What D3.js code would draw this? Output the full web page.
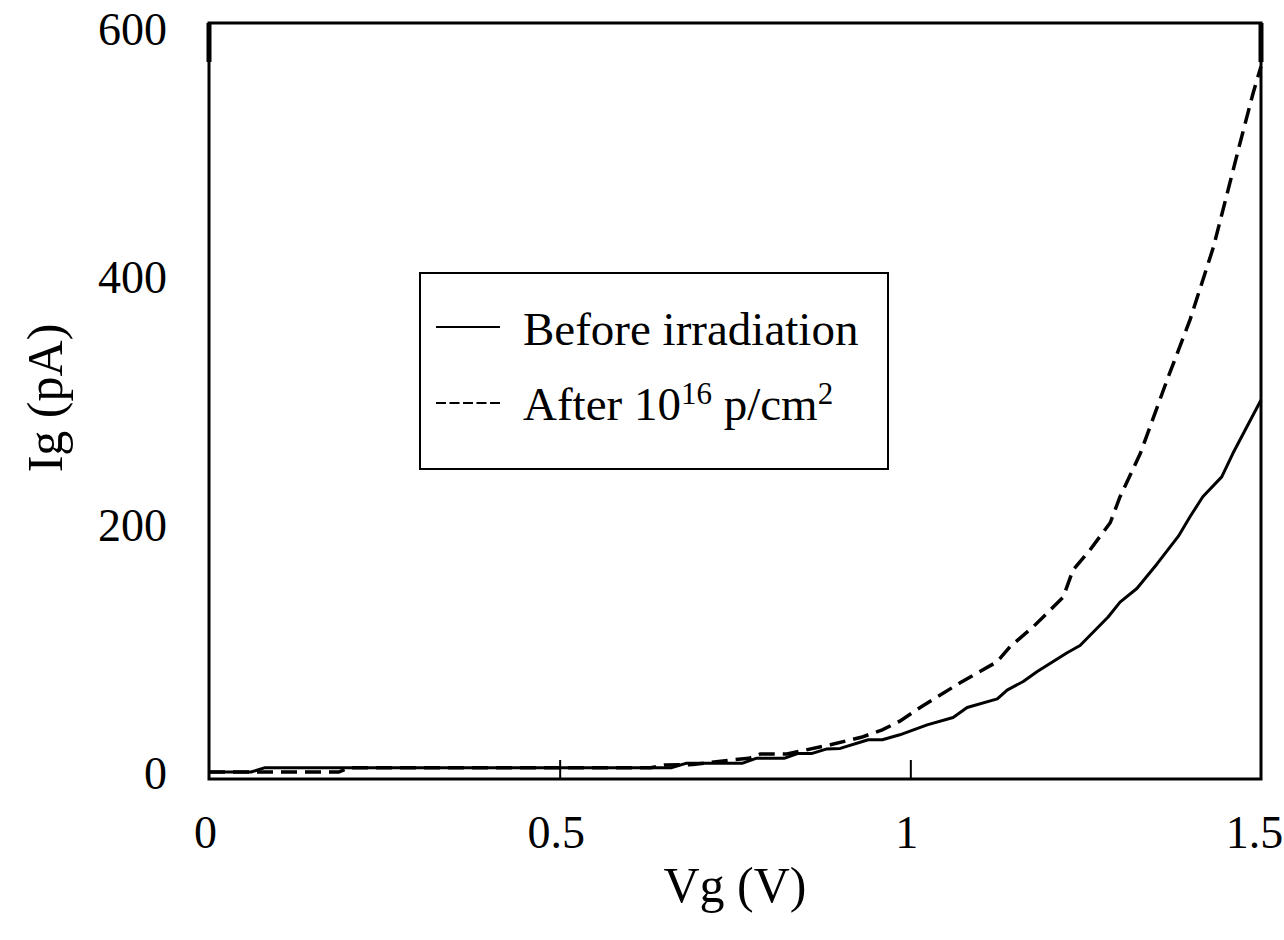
<!DOCTYPE html>
<html>
<head>
<meta charset="utf-8">
<script src="https://cdn.jsdelivr.net/npm/d3@7"></script>
<style>
  body { margin: 0; background: #fff; }
  text { font-family: "Liberation Serif", "Times New Roman", serif; fill: #000; }
</style>
</head>
<body>
<div id="chart"></div>
<script>
// Gate current before irradiation (solid)
const beforeVg = [0, 0.06, 0.08, 0.66, 0.68, 0.76, 0.78, 0.82, 0.84, 0.86, 0.88, 0.90, 0.94, 0.96,
  0.985, 1.024, 1.061, 1.081, 1.124, 1.138, 1.161, 1.181, 1.223, 1.242, 1.282, 1.299, 1.323,
  1.352, 1.382, 1.399, 1.417, 1.444, 1.460, 1.5];
const beforeIg = [0, 0, 3.5, 3.5, 7, 7, 11, 11, 15, 15, 18.5, 19, 26, 26,
  30, 38, 44, 52, 59, 66, 73, 81, 96, 102, 125, 137, 148,
  168, 190, 206, 222, 238, 257, 300];

// Gate current after 10^16 p/cm2 (dashed)
const afterVg = [0, 0.185, 0.2, 0.63, 0.65, 0.69, 0.75, 0.77, 0.786, 0.824, 0.886, 0.93, 0.96,
  0.985, 1.014, 1.071, 1.124, 1.142, 1.175, 1.218, 1.232, 1.256, 1.285, 1.299, 1.328,
  1.366, 1.399, 1.432, 1.452, 1.470, 1.489, 1.5];
const afterIg = [0, 0, 3.5, 3.5, 5.6, 6, 10, 11, 14.5, 14.5, 22, 28, 34,
  41, 52, 72, 89, 101, 117, 141, 163, 179, 201, 222, 257,
  316, 365, 423, 467, 507, 548, 569];

const xTicks = [0, 0.5, 1, 1.5];
const yTicks = [0, 200, 400, 600];

const width = 1284;
const height = 940;
const plotLeft = 209, plotRight = 1261, plotTop = 23, plotBottom = 779;

const svg = d3.select("#chart")
  .append("svg")
  .attr("width", width)
  .attr("height", height);

// Scales
const x = d3.scaleLinear().domain([0, 1.5]).range([plotLeft, plotRight]);
const y = d3.scaleLinear().domain([0, 600]).range([772, 28]);

// Plot frame
svg.append("rect")
  .attr("x", plotLeft).attr("y", plotTop)
  .attr("width", plotRight - plotLeft).attr("height", plotBottom - plotTop)
  .attr("fill", "none").attr("stroke", "#000").attr("stroke-width", 3);

// thicker stubs at the top corners
[plotLeft, plotRight].forEach((px) => {
  svg.append("line")
    .attr("x1", px).attr("x2", px)
    .attr("y1", plotTop).attr("y2", 62)
    .attr("stroke", "#000").attr("stroke-width", 5);
});

// X axis ticks (crossing the zero line)
const xAxis = d3.axisBottom(x).tickValues(xTicks).tickSize(-19).tickFormat(d3.format(""));
const gx = svg.append("g")
  .attr("transform", `translate(0, ${plotBottom})`)
  .call(xAxis);
gx.select(".domain").remove();
gx.selectAll(".tick line").attr("stroke", "#000").attr("stroke-width", 2);
gx.selectAll(".tick text")
  .attr("y", 69).attr("dy", 0)
  .attr("dx", (d) => (d === 0 ? -4 : d === 1.5 ? -7 : -4))
  .style("font-size", "46px")
  .style("font-family", "Liberation Serif");
gx.selectAll(".tick").filter((d) => d === 0 || d === 1.5).select("line").remove();

// Y axis labels only
const yAxis = d3.axisLeft(y).tickValues(yTicks).tickSize(0).tickFormat(d3.format(""));
const gy = svg.append("g")
  .attr("transform", `translate(167, 0)`)
  .call(yAxis);
gy.select(".domain").remove();
gy.selectAll(".tick text")
  .attr("x", 0).attr("dy", "0.35em")
  .style("font-size", "46px")
  .style("font-family", "Liberation Serif");

// Lines
const line = d3.line().x((d) => x(d[0])).y((d) => y(d[1]));
const beforeData = beforeVg.map((v, i) => [v, beforeIg[i]]);
const afterData = afterVg.map((v, i) => [v, afterIg[i]]);

svg.append("path")
  .datum(beforeData)
  .attr("d", line)
  .attr("fill", "none").attr("stroke", "#000").attr("stroke-width", 3)
  .attr("stroke-linejoin", "round");

svg.append("path")
  .datum(afterData)
  .attr("d", line)
  .attr("fill", "none").attr("stroke", "#000").attr("stroke-width", 3.5)
  .attr("stroke-dasharray", "16,8");

// Axis titles
svg.append("text")
  .attr("x", 735).attr("y", 902)
  .attr("text-anchor", "middle")
  .style("font-size", "50px")
  .text("Vg (V)");

svg.append("text")
  .attr("transform", "translate(62, 398) rotate(-90)")
  .attr("text-anchor", "middle")
  .style("font-size", "50px")
  .text("Ig (pA)");

// Legend
const legend = svg.append("g");
legend.append("rect")
  .attr("x", 420).attr("y", 273)
  .attr("width", 468).attr("height", 196)
  .attr("fill", "#fff").attr("stroke", "#000").attr("stroke-width", 2);

legend.append("line")
  .attr("x1", 436).attr("x2", 500).attr("y1", 327).attr("y2", 327)
  .attr("stroke", "#000").attr("stroke-width", 2);
legend.append("text")
  .attr("x", 523).attr("y", 345)
  .style("font-size", "47px")
  .text("Before irradiation");

legend.append("line")
  .attr("x1", 436).attr("x2", 500).attr("y1", 403).attr("y2", 403)
  .attr("stroke", "#000").attr("stroke-width", 2)
  .attr("stroke-dasharray", "10,3.5");
const t2 = legend.append("text")
  .attr("x", 523).attr("y", 420)
  .style("font-size", "47px");
t2.append("tspan").text("After 10");
t2.append("tspan").attr("dy", -16).style("font-size", "31px").text("16");
t2.append("tspan").attr("dy", 16).text(" p/cm");
t2.append("tspan").attr("dy", -16).style("font-size", "31px").text("2");
</script>
</body>
</html>
